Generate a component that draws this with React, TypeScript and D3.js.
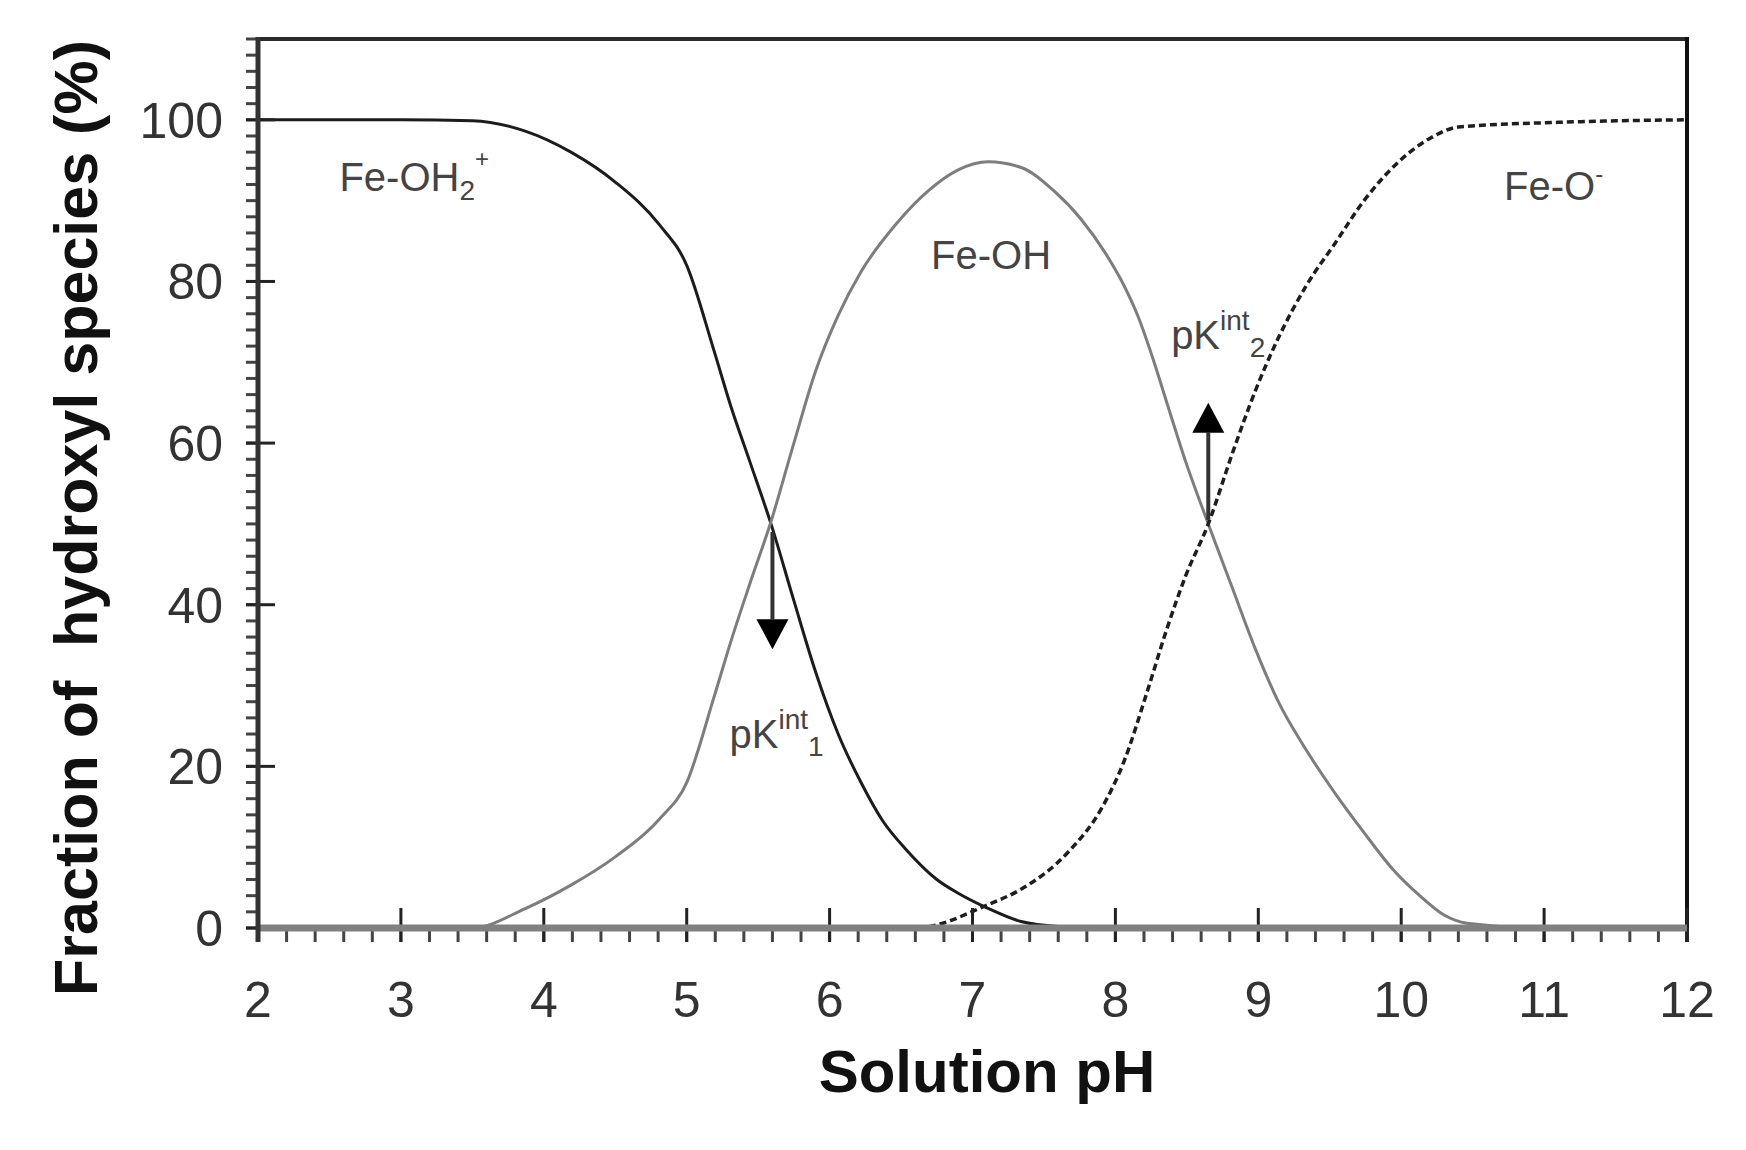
import React, { useRef, useEffect } from 'react';
import * as d3 from 'd3';

// species fractions (%) vs pH
const phAcid = [2, 3, 3.5, 3.87, 4.19, 4.5, 4.81, 5.0, 5.19, 5.31, 5.44, 5.59, 5.75, 5.9, 6.06, 6.22, 6.37, 6.53, 6.75, 6.9, 7.1, 7.34, 7.6, 8, 8.3];
const fracAcid = [100, 100, 99.9, 98.6, 96, 92.3, 87, 82, 71.5, 64.5, 57.8, 50, 40.5, 31.8, 24, 18, 13.3, 9.8, 6, 4.3, 2.5, 0.8, 0.2, 0, 0];

const phNeutral = [2, 3.5, 3.87, 4.19, 4.5, 4.81, 5.0, 5.19, 5.31, 5.44, 5.59, 5.75, 5.9, 6.06, 6.22, 6.47, 6.69, 6.9, 7.11, 7.34, 7.57, 7.76, 7.93, 8.06, 8.16, 8.26, 8.36, 8.49, 8.65, 8.82, 8.98, 9.14, 9.34, 9.54, 9.74, 9.93, 10.13, 10.3, 10.46, 11, 12];
const fracNeutral = [0, 0, 2.4, 5.3, 8.8, 13.5, 18, 28.5, 35.5, 42.5, 50.3, 60, 68.8, 75.8, 81.2, 87.2, 91.2, 93.8, 94.8, 94.1, 91.2, 87.7, 83.5, 79.5, 75.6, 70.6, 65, 57.8, 50, 42, 34.5, 28, 21.9, 16.6, 11.8, 7.5, 4, 1.6, 0.6, 0, 0];

const phBase = [2, 6.6, 7.11, 7.34, 7.67, 7.9, 8.06, 8.22, 8.36, 8.49, 8.65, 8.82, 8.98, 9.14, 9.34, 9.54, 9.74, 9.97, 10.2, 10.4, 11.12, 12];
const fracBase = [0, 0, 2.9, 4.8, 9.4, 14.7, 20.6, 29.1, 37, 43.5, 50, 58.8, 66.5, 73, 79.6, 84.8, 90, 94.6, 97.7, 99.1, 99.7, 100];

const xTicks = [2, 3, 4, 5, 6, 7, 8, 9, 10, 11, 12];
const yTicks = [0, 20, 40, 60, 80, 100];

// pK arrows: pH, start %, tip %
const pkPH = [5.6, 8.65];
const pkFrom = [49, 50.5];
const pkTo = [34.5, 65];

const App = () => {
  const ref = useRef<HTMLDivElement>(null);

  useEffect(() => {
    const width = 1746;
    const height = 1150;
    const x0 = 258, x1 = 1687, y0 = 928, y1 = 39;
    const font = '"Liberation Sans", Arial, Helvetica, sans-serif';

    const x = d3.scaleLinear().domain([2, 12]).range([x0, x1]);
    const y = d3.scaleLinear().domain([0, 110]).range([y0, y1]);

    const root = d3.select(ref.current);
    root.selectAll('*').remove();
    const svg = root
      .append('svg')
      .attr('width', width)
      .attr('height', height)
      .style('display', 'block')
      .style('font-family', font);

    svg.append('rect').attr('width', width).attr('height', height).attr('fill', '#fff');

    // curves
    const line = d3
      .line<[number, number]>()
      .x(d => x(d[0]))
      .y(d => y(d[1]))
      .curve(d3.curveMonotoneX);

    const series = [
      { xs: phAcid, ys: fracAcid, color: '#1c1c1c', w: 3, dash: null },
      { xs: phNeutral, ys: fracNeutral, color: '#7d7d7d', w: 3, dash: null },
      { xs: phBase, ys: fracBase, color: '#1e1e1e', w: 3.5, dash: '7,4' },
    ];
    series.forEach(s => {
      svg
        .append('path')
        .attr('d', line(s.xs.map((v, i) => [v, s.ys[i]] as [number, number])))
        .attr('fill', 'none')
        .attr('stroke', s.color)
        .attr('stroke-width', s.w)
        .attr('stroke-dasharray', s.dash);
    });

    // pK arrows
    pkPH.forEach((ph, i) => {
      const ax = x(ph);
      const ya = y(pkFrom[i]);
      const yt = y(pkTo[i]);
      const dir = yt > ya ? 1 : -1;
      const headH = 30, headW = 16;
      svg
        .append('line')
        .attr('x1', ax).attr('x2', ax)
        .attr('y1', ya).attr('y2', yt - dir * headH)
        .attr('stroke', '#333')
        .attr('stroke-width', 4);
      svg
        .append('path')
        .attr('d', `M${ax},${yt} L${ax - headW},${yt - dir * headH} L${ax + headW},${yt - dir * headH} Z`)
        .attr('fill', '#000');
    });

    // axes frame
    const axes = svg.append('g').attr('stroke-linecap', 'butt');
    axes.append('line').attr('x1', x0).attr('x2', x1 + 2).attr('y1', y1).attr('y2', y1)
      .attr('stroke', '#2a2a2a').attr('stroke-width', 4);
    axes.append('line').attr('x1', x1).attr('x2', x1).attr('y1', y1 - 2).attr('y2', y0 + 14)
      .attr('stroke', '#111').attr('stroke-width', 4);

    // y ticks
    axes.selectAll('.ymin')
      .data(d3.range(0, 110.01, 2))
      .join('line')
      .attr('x1', x0 - 12).attr('x2', x0)
      .attr('y1', d => y(d)).attr('y2', d => y(d))
      .attr('stroke', '#444').attr('stroke-width', 3);
    axes.selectAll('.ymaj')
      .data(yTicks)
      .join('line')
      .attr('x1', x0 - 12).attr('x2', x0 + 17)
      .attr('y1', d => y(d)).attr('y2', d => y(d))
      .attr('stroke', '#222').attr('stroke-width', 3);

    // x ticks
    axes.selectAll('.xmin')
      .data(d3.range(2, 12.001, 0.2))
      .join('line')
      .attr('x1', d => x(d)).attr('x2', d => x(d))
      .attr('y1', y0).attr('y2', y0 + 14)
      .attr('stroke', '#444').attr('stroke-width', 3);
    axes.selectAll('.xmaj')
      .data(xTicks)
      .join('line')
      .attr('x1', d => x(d)).attr('x2', d => x(d))
      .attr('y1', y0 - 20).attr('y2', y0 + 14)
      .attr('stroke', '#222').attr('stroke-width', 3);

    axes.append('line').attr('x1', x0).attr('x2', x1).attr('y1', y0).attr('y2', y0)
      .attr('stroke', '#808080').attr('stroke-width', 7);
    axes.append('line').attr('x1', x0).attr('x2', x0).attr('y1', y1 - 2).attr('y2', y0 + 14)
      .attr('stroke', '#333').attr('stroke-width', 5);

    // tick labels
    svg.append('g')
      .selectAll('text')
      .data(yTicks)
      .join('text')
      .attr('x', x0 - 35)
      .attr('y', d => y(d) + 18)
      .attr('text-anchor', 'end')
      .attr('font-size', 50)
      .attr('fill', '#333')
      .text(d => d);

    svg.append('g')
      .selectAll('text')
      .data(xTicks)
      .join('text')
      .attr('x', d => x(d))
      .attr('y', 1017)
      .attr('text-anchor', 'middle')
      .attr('font-size', 50)
      .attr('fill', '#333')
      .text(d => d);

    // axis titles
    svg.append('text')
      .attr('x', 987)
      .attr('y', 1092)
      .attr('text-anchor', 'middle')
      .attr('font-size', 60)
      .attr('font-weight', 'bold')
      .attr('fill', '#111')
      .text('Solution pH');

    svg.append('text')
      .attr('transform', 'translate(97,518) rotate(-90)')
      .attr('text-anchor', 'middle')
      .attr('font-size', 61)
      .attr('font-weight', 'bold')
      .attr('fill', '#111')
      .style('white-space', 'pre')
      .text('Fraction of  hydroxyl species (%)');

    // species labels
    const lab = svg.append('g').attr('font-size', 40).attr('fill', '#444');

    const t1 = lab.append('text').attr('x', x(2.57)).attr('y', y(91.2));
    t1.append('tspan').text('Fe-OH');
    t1.append('tspan').attr('font-size', 28).attr('dy', 9).text('2');
    t1.append('tspan').attr('font-size', 24).attr('dy', -33).text('+');

    lab.append('text').attr('x', x(6.71)).attr('y', y(81.6)).text('Fe-OH');

    const t3 = lab.append('text').attr('x', x(10.72)).attr('y', y(90.1));
    t3.append('tspan').text('Fe-O');
    t3.append('tspan').attr('font-size', 24).attr('dy', -18).text('-');

    const pkPos = [[5.3, 22.3, '1'], [8.39, 71.7, '2']] as [number, number, string][];
    pkPos.forEach(([ph, v, n]) => {
      const t = lab.append('text').attr('x', x(ph)).attr('y', y(v));
      t.append('tspan').text('pK');
      t.append('tspan').attr('font-size', 28).attr('dy', -19).text('int');
      t.append('tspan').attr('font-size', 28).attr('dy', 27).text(n);
    });
  }, []);

  return <div ref={ref} style={{ position: 'absolute', left: 0, top: 0 }} />;
};

export default App;
